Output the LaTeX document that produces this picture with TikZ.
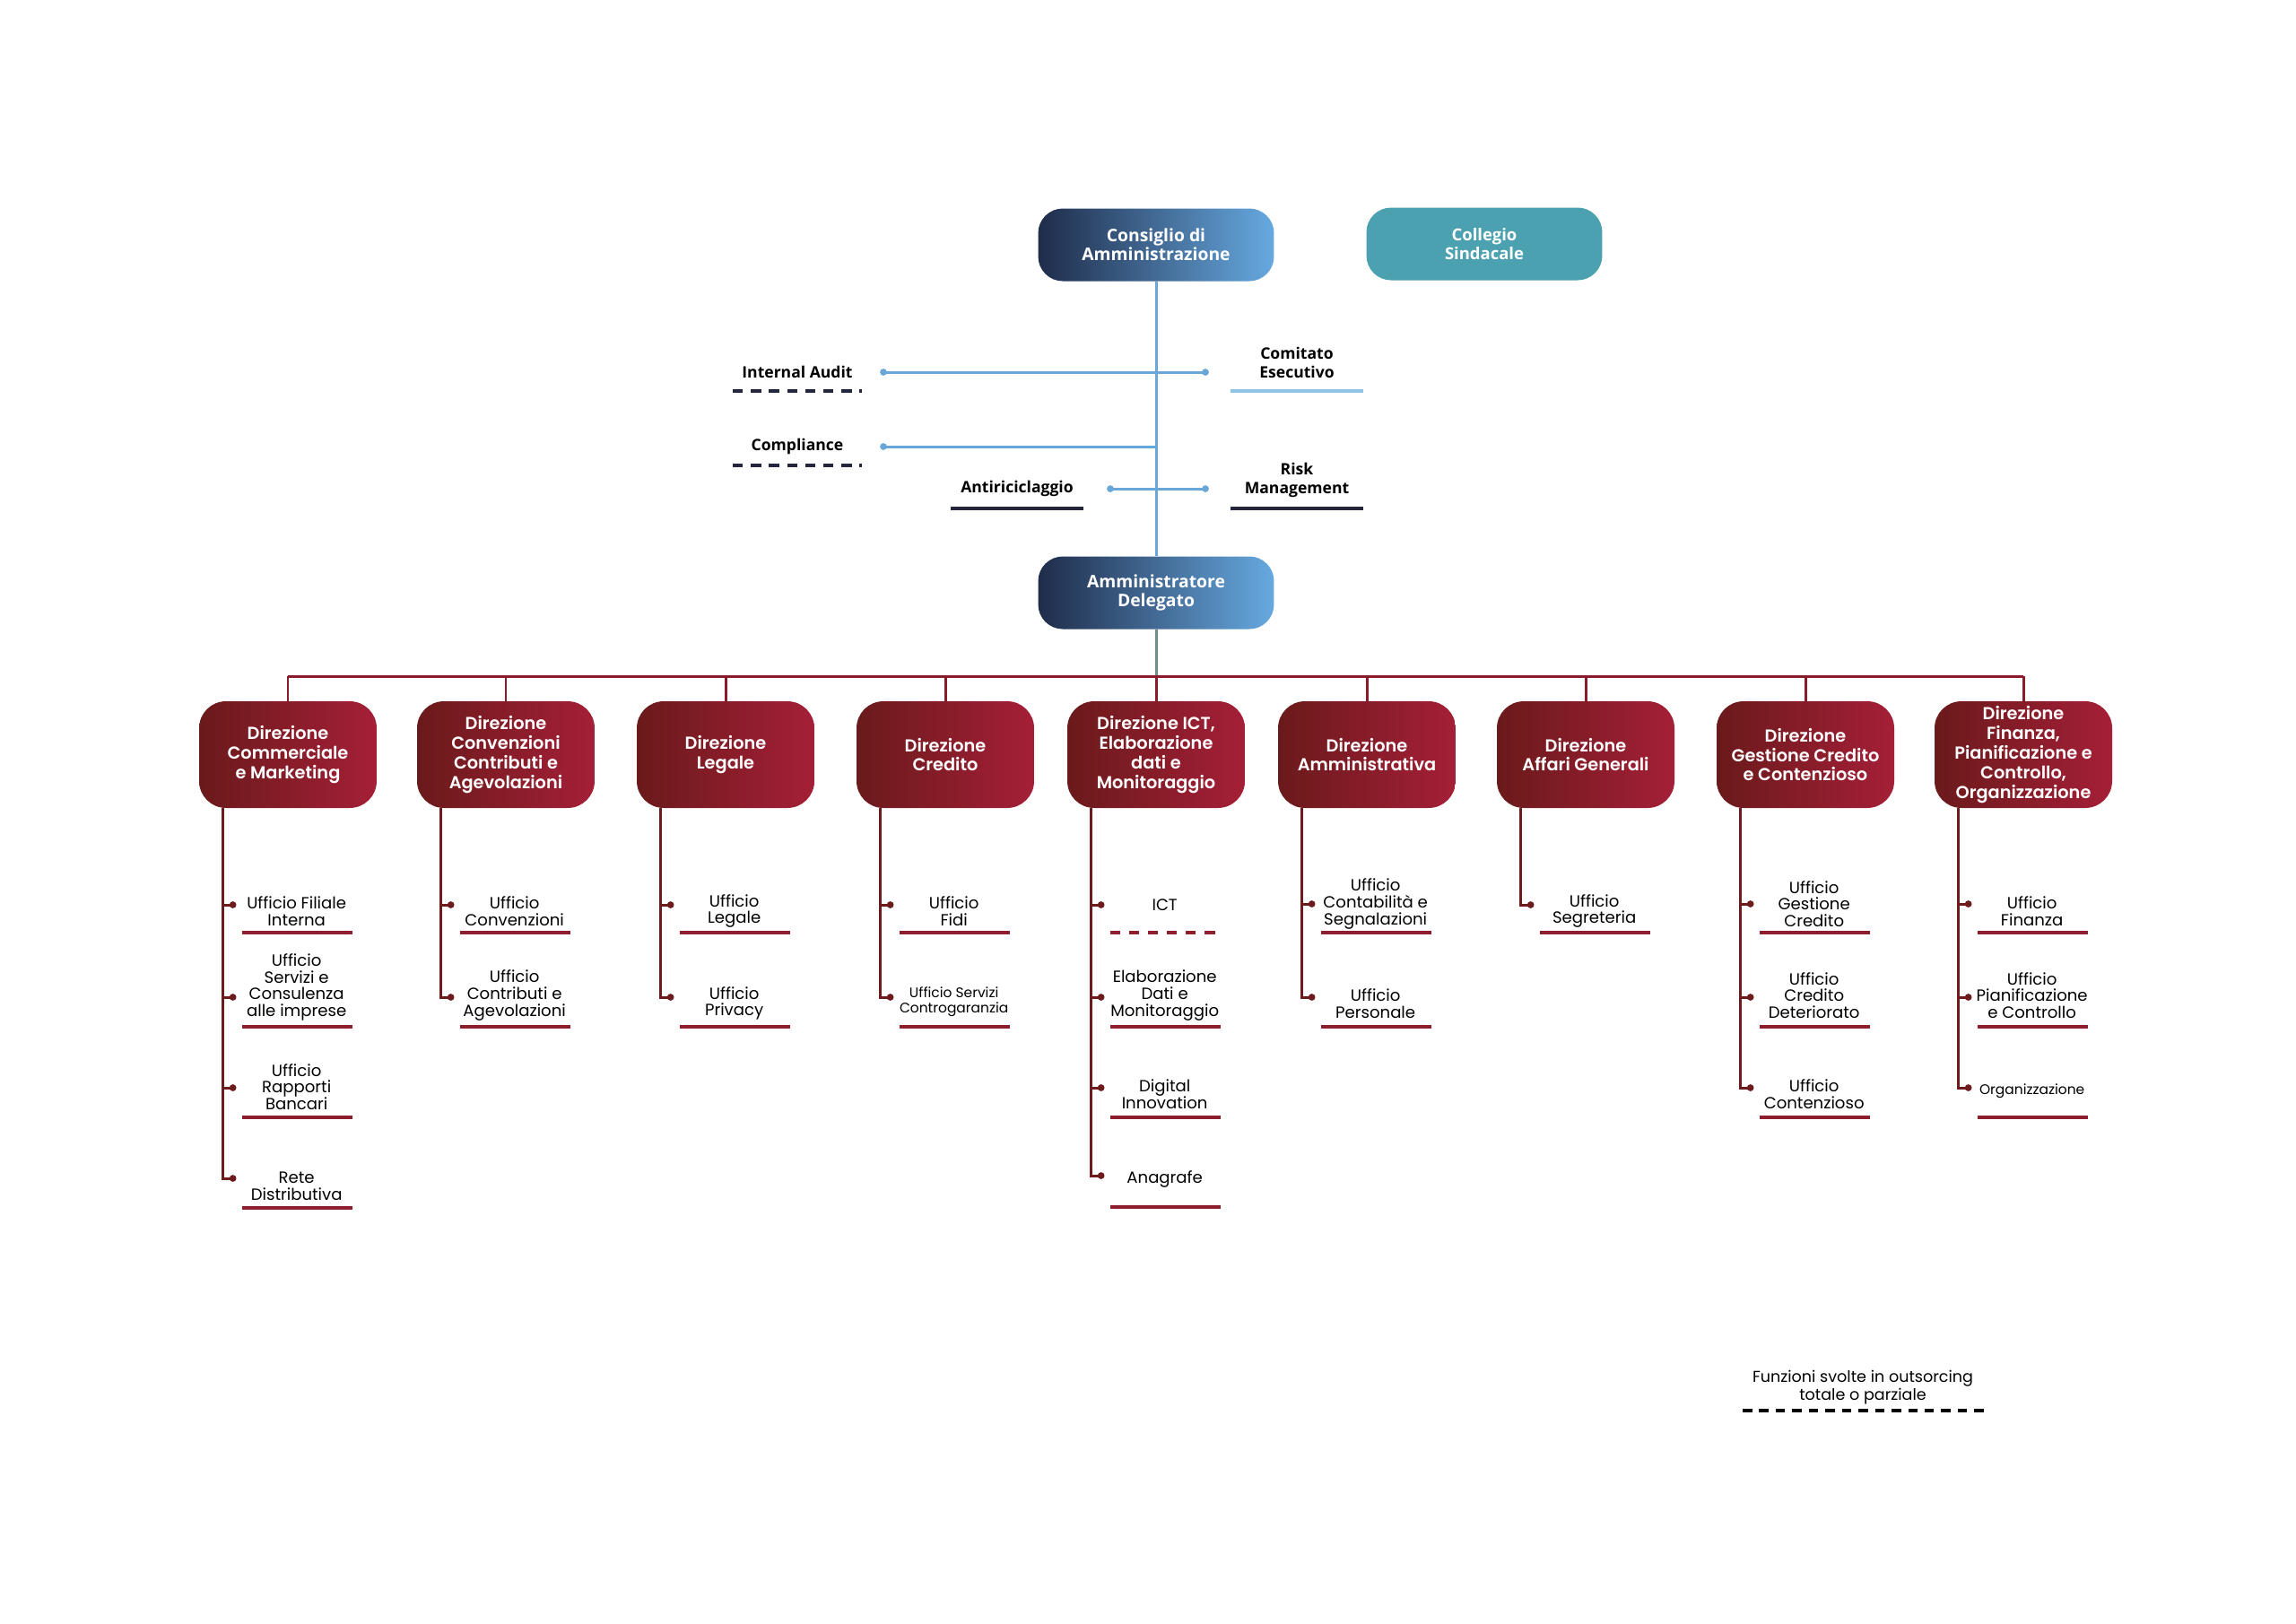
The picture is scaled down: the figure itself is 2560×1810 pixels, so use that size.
\documentclass[tikz,border=0pt]{standalone}
\usepackage{fontspec}
\setmainfont{Poppins}
\newfontfamily\narrowfont{Open Sans}
\newfontfamily\boxfont{Poppins SemiBold}
\usepackage{tikz}
\usetikzlibrary{positioning,calc}
\definecolor{navy}{HTML}{1F2C4A}
\definecolor{celeste}{HTML}{66A9E0}
\definecolor{collegio}{HTML}{4BA1B0}
\definecolor{lineablu}{HTML}{69A7D9}
\definecolor{azzurro}{HTML}{8EC4E4}
\definecolor{notte}{HTML}{23263D}
\definecolor{bordeaux}{HTML}{6A1A1B}
\definecolor{cremisi}{HTML}{A51F37}
\definecolor{ramocol}{HTML}{6E1B1E}
\definecolor{buscol}{HTML}{8A1B2B}
\definecolor{sottocol}{HTML}{8E1D2D}
\definecolor{grigioverde}{HTML}{6D8E8A}
\newcommand{\ufficio}[8][subline]{%
\coordinate (#3) at ($(#2 |- 0,#4)+(11,0)$);
\draw[ramo] (#2 |- #3) -- (#3);
\fill[ramocol] (#3) circle (2.2pt);
\node[uff,#8] (#3-t) at ($(#2 |- 0,#5)+(82,0)$) {#7};
\draw[#1] ($(#2 |- 0,#6)+(21,0)$) -- ++(123,0);
}
\tikzset{%
  blubox/.style={%
    rounded corners=0.55cm, minimum width=5.26cm, minimum height=1.62cm,
    left color=navy, right color=celeste, text=white, align=center,
    font=\narrowfont\bfseries\fontsize{11}{12}\selectfont
  },
  collbox/.style={%
    rounded corners=0.55cm, minimum width=5.26cm, minimum height=1.62cm,
    fill=collegio, text=white, align=center,
    font=\narrowfont\bfseries\fontsize{10.5}{10.3}\selectfont
  },
  dirbox/.style={%
    rounded corners=0.6cm, minimum width=3.96cm, minimum height=2.38cm,
    left color=bordeaux, right color=cremisi, text=white, align=center,
    inner sep=1pt, font=\boxfont\fontsize{11}{12.5}\selectfont
  },
  funz/.style={align=center, inner sep=0pt,
    font=\narrowfont\bfseries\fontsize{10}{12}\selectfont},
  uff/.style={align=center, inner sep=0pt, font=\fontsize{10.3}{10.7}\selectfont},
  piccolo/.style={font=\fontsize{8.8}{10}\selectfont},
  bluline/.style={draw=lineablu, line width=1.7pt},
  busline/.style={draw=buscol, line width=1.7pt},
  ramo/.style={draw=ramocol, line width=1.7pt},
  subline/.style={draw=sottocol, line width=2pt},
  ictline/.style={draw=sottocol, line width=2pt, dash pattern=on 6.5pt off 5.5pt},
  outsrc/.style={draw=notte, line width=2pt, dash pattern=on 6.5pt off 5pt}
}

\begin{document}
\begin{tikzpicture}[x=0.02cm,y=-0.02cm]
\useasboundingbox (0,0) rectangle (2560,1810);

\node[blubox] (cda) at (1289,273) {Consiglio di\\Amministrazione};
\node[collbox] (cs) at (1655,272) {Collegio\\Sindacale};
\node[blubox] (ad) at (1289,661) {Amministratore\\Delegato};

\coordinate (ia-dot) at (985,415);
\coordinate (ce-dot) at (1344,415);
\coordinate (co-dot) at (985,498);
\coordinate (ar-dot) at (1238,545);
\coordinate (rm-dot) at (1344,545);

\draw[bluline] (cda.south) -- (ad.north);
\draw[bluline] (ia-dot) -- (ce-dot);
\draw[bluline] (co-dot) -- (co-dot -| cda.south);
\draw[bluline] (ar-dot) -- (rm-dot);
\foreach \p in {ia,ce,co,ar,rm} \fill[lineablu] (\p-dot) circle (2.2pt);

\node[funz] (ia) at (889,415) {Internal Audit};
\node[funz] (co) at (889,498) {Compliance};
\node[funz] (ar) at (1134,545) {Antiriciclaggio};
\node[funz] (ce) at (1446,404) {Comitato\\Esecutivo};
\node[funz] (rm) at (1446,535) {Risk\\Management};
\draw[outsrc] ($(ia)+(-72,21)$) -- ++(144,0);
\draw[outsrc] ($(co)+(-72,21)$) -- ++(144,0);
\draw[draw=notte,line width=2pt] ($(ar)+(-74,22)$) -- ++(148,0);
\draw[draw=azzurro,line width=2pt] ($(ce)+(-74,32)$) -- ++(148,0);
\draw[draw=notte,line width=2pt] ($(rm)+(-74,32)$) -- ++(148,0);

\foreach \i/\x/\t in {%
  1/321/{Direzione\\Commerciale\\e Marketing},
  2/564/{Direzione\\Convenzioni\\Contributi e\\Agevolazioni},
  3/809/{Direzione\\Legale},
  4/1054/{Direzione\\Credito},
  5/1289/{Direzione ICT,\\Elaborazione\\dati e\\Monitoraggio},
  6/1524/{Direzione\\Amministrativa},
  7/1768/{Direzione\\Affari Generali},
  8/2013/{Direzione\\Gestione Credito\\e Contenzioso},
  9/2256/{Direzione\\Finanza,\\Pianificazione e\\Controllo,\\Organizzazione}} {
  \node[dirbox] (dir\i) at (\x,841.5) {\t};
  \coordinate (v\i) at ($(dir\i.south west)+(27,0)$);
}

\coordinate (bus) at (1289,754);
\draw[draw=grigioverde,line width=1.7pt] (ad.south) -- (bus);
\draw[busline] (dir1.north |- bus) -- (dir9.north |- bus);
\foreach \i in {1,...,9} \draw[busline] (dir\i.north |- bus) -- (dir\i.north);

\ufficio{v1}{u1a}{1009}{1016}{1040}{Ufficio Filiale\\Interna}{}
\ufficio{v1}{u1b}{1112}{1101}{1145}{Ufficio\\Servizi e\\Consulenza\\alle imprese}{}
\ufficio{v1}{u1c}{1213}{1212}{1246}{Ufficio\\Rapporti\\Bancari}{}
\ufficio{v1}{u1d}{1314}{1323}{1347}{Rete\\Distributiva}{}
\draw[ramo] (v1) |- (u1d);

\ufficio{v2}{u2a}{1009}{1016}{1040}{Ufficio\\Convenzioni}{}
\ufficio{v2}{u2b}{1112}{1110}{1145}{Ufficio\\Contributi e\\Agevolazioni}{}
\draw[ramo] (v2) |- (u2b);

\ufficio{v3}{u3a}{1009}{1016}{1040}{Ufficio\\Legale}{}
\ufficio{v3}{u3b}{1112}{1119}{1145}{Ufficio\\Privacy}{}
\draw[ramo] (v3) |- (u3b);

\ufficio{v4}{u4a}{1009}{1016}{1040}{Ufficio\\Fidi}{}
\ufficio{v4}{u4b}{1112}{1117}{1145}{Ufficio Servizi\\Controgaranzia}{piccolo}
\draw[ramo] (v4) |- (u4b);

\ufficio[ictline]{v5}{u5a}{1009}{1009}{1040}{ICT}{}
\ufficio{v5}{u5b}{1112}{1110}{1145}{Elaborazione\\Dati e\\Monitoraggio}{}
\ufficio{v5}{u5c}{1213}{1220}{1246}{Digital\\Innovation}{}
\ufficio{v5}{u5d}{1311}{1315}{1346}{Anagrafe}{}
\draw[ramo] (v5) |- (u5d);

\ufficio{v6}{u6a}{1008}{1008}{1040}{Ufficio\\Contabilità e\\Segnalazioni}{}
\ufficio{v6}{u6b}{1112}{1119}{1145}{Ufficio\\Personale}{}
\draw[ramo] (v6) |- (u6b);

\ufficio{v7}{u7a}{1009}{1016}{1040}{Ufficio\\Segreteria}{}
\draw[ramo] (v7) |- (u7a);

\ufficio{v8}{u8a}{1008}{1008}{1040}{Ufficio\\Gestione\\Credito}{}
\ufficio{v8}{u8b}{1112}{1110}{1145}{Ufficio\\Credito\\Deteriorato}{}
\ufficio{v8}{u8c}{1213}{1220}{1246}{Ufficio\\Contenzioso}{}
\draw[ramo] (v8) |- (u8c);

\ufficio{v9}{u9a}{1008}{1016}{1040}{Ufficio\\Finanza}{}
\ufficio{v9}{u9b}{1112}{1110}{1145}{Ufficio\\Pianificazione\\e Controllo}{}
\ufficio{v9}{u9c}{1213}{1217}{1246}{Organizzazione}{piccolo}
\draw[ramo] (v9) |- (u9c);

\node[uff,font=\fontsize{10}{10.2}\selectfont] (leg) at (2077,1547) {Funzioni svolte in outsorcing\\totale o parziale};
\draw[draw=black,line width=2pt,dash pattern=on 6pt off 4.5pt] ($(leg)+(-134,26)$) -- ++(270,0);
\end{tikzpicture}
\end{document}
